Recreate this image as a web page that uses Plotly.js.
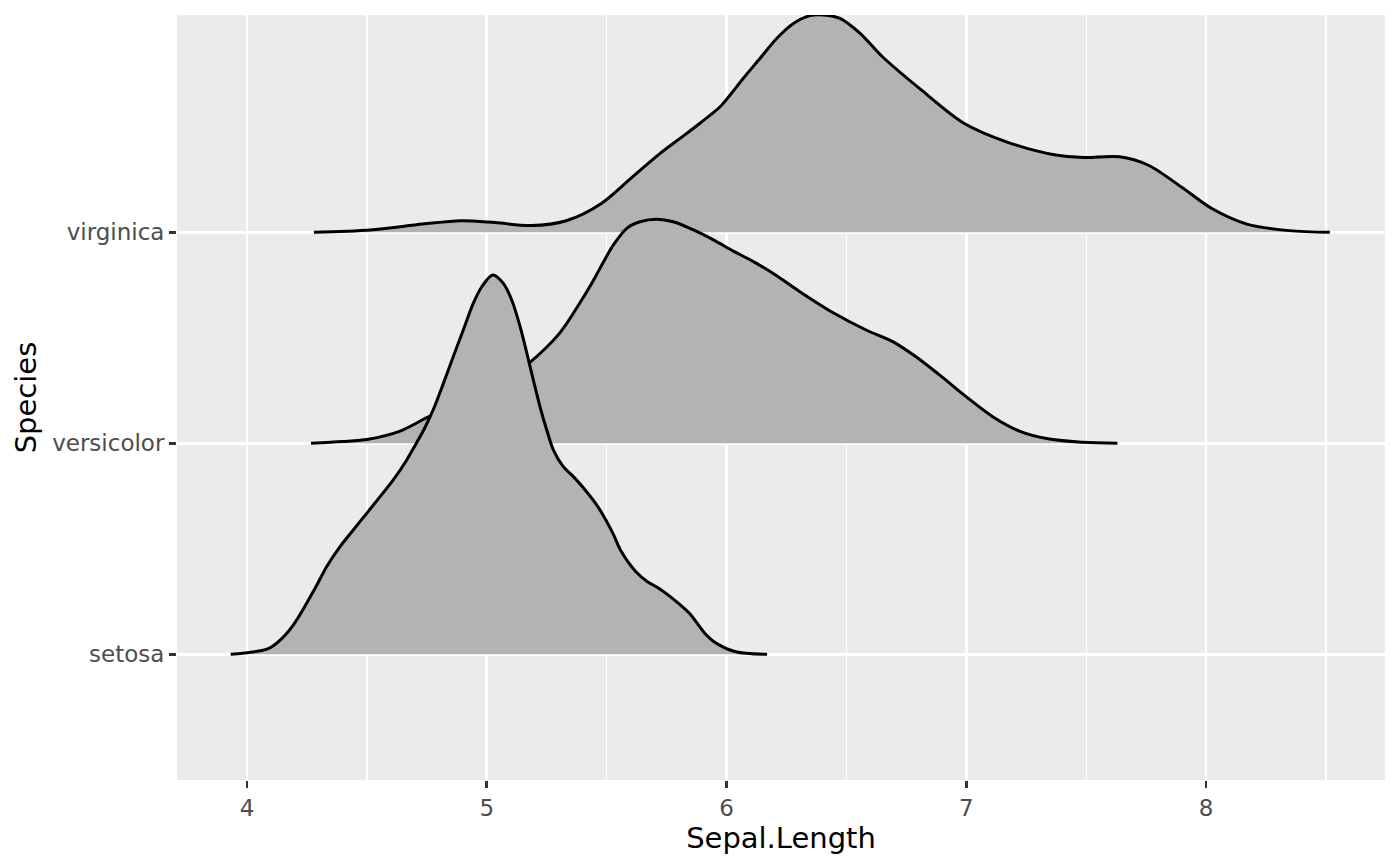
<!DOCTYPE html>
<html>
<head>
<meta charset="utf-8">
<script src="https://cdn.plot.ly/plotly-3.0.1.min.js"></script>
<style>
  html, body { margin: 0; padding: 0; background: #fff; }
  #myDiv { width: 1400px; height: 865px; }
</style>
</head>
<body>
<div id="myDiv"></div>
<script>
// ridge order, bottom to top
var species = ['setosa', 'versicolor', 'virginica'];

// Sepal.Length grid and ridge heights (in units of ridge spacing)
var setosaX = [3.932, 4.091, 4.150, 4.200, 4.284, 4.332, 4.388, 4.443, 4.499, 4.555, 4.610, 4.666, 4.701, 4.740, 4.777, 4.819, 4.860, 4.902, 4.944, 4.979, 5.025, 5.069, 5.104, 5.139, 5.167, 5.194, 5.222, 5.250, 5.278, 5.319, 5.361, 5.399, 5.463, 5.526, 5.558, 5.622, 5.670, 5.717, 5.765, 5.845, 5.909, 5.957, 6.037, 6.169];
var setosaH = [0, 0.028, 0.080, 0.150, 0.313, 0.415, 0.510, 0.589, 0.668, 0.747, 0.826, 0.921, 0.990, 1.070, 1.160, 1.284, 1.410, 1.537, 1.664, 1.742, 1.798, 1.758, 1.679, 1.553, 1.427, 1.300, 1.173, 1.063, 0.968, 0.889, 0.842, 0.794, 0.700, 0.573, 0.493, 0.391, 0.344, 0.313, 0.273, 0.194, 0.100, 0.052, 0.012, 0];

var versicolorX = [4.267, 4.400, 4.506, 4.633, 4.761, 4.850, 4.950, 5.050, 5.175, 5.303, 5.399, 5.431, 5.472, 5.528, 5.584, 5.639, 5.709, 5.778, 5.862, 5.945, 6.028, 6.112, 6.209, 6.304, 6.443, 6.582, 6.693, 6.790, 6.888, 6.999, 7.110, 7.221, 7.346, 7.485, 7.630];
var versicolorH = [0, 0.008, 0.019, 0.055, 0.127, 0.166, 0.218, 0.280, 0.379, 0.521, 0.685, 0.745, 0.829, 0.940, 1.019, 1.050, 1.062, 1.050, 1.011, 0.964, 0.911, 0.861, 0.794, 0.720, 0.620, 0.537, 0.482, 0.410, 0.324, 0.221, 0.126, 0.058, 0.020, 0.005, 0];

var virginicaX = [4.279, 4.513, 4.733, 4.893, 5.035, 5.185, 5.331, 5.478, 5.609, 5.723, 5.806, 5.889, 5.973, 6.015, 6.070, 6.140, 6.209, 6.279, 6.348, 6.404, 6.473, 6.557, 6.650, 6.813, 6.990, 7.167, 7.373, 7.491, 7.639, 7.757, 7.904, 8.022, 8.170, 8.347, 8.516];
var virginicaH = [0, 0.011, 0.039, 0.055, 0.046, 0.032, 0.055, 0.137, 0.264, 0.374, 0.445, 0.517, 0.595, 0.651, 0.730, 0.825, 0.919, 0.990, 1.027, 1.030, 1.014, 0.943, 0.832, 0.674, 0.517, 0.429, 0.366, 0.355, 0.358, 0.319, 0.209, 0.114, 0.039, 0.008, 0];

var xTicks = [4, 5, 6, 7, 8];

var ridges = [
  {x: setosaX, h: setosaH},
  {x: versicolorX, h: versicolorH},
  {x: virginicaX, h: virginicaH}
];

var data = [];
// top ridge first so lower ridges overlap it
for (var i = ridges.length - 1; i >= 0; i--) {
  var base = i + 1;
  var r = ridges[i];
  data.push({
    x: [r.x[0], r.x[r.x.length - 1]],
    y: [base, base],
    mode: 'lines',
    line: {width: 0},
    hoverinfo: 'skip',
    showlegend: false,
    type: 'scatter'
  });
  data.push({
    x: r.x,
    y: r.h.map(function (v) { return base + v; }),
    mode: 'lines',
    fill: 'tonexty',
    fillcolor: '#B3B3B3',
    line: {color: '#000000', width: 3, shape: 'spline', smoothing: 0.9},
    name: species[i],
    showlegend: false,
    type: 'scatter'
  });
}

var layout = {
  width: 1400,
  height: 865,
  margin: {l: 177, r: 15, t: 15, b: 85},
  paper_bgcolor: '#FFFFFF',
  plot_bgcolor: '#EBEBEB',
  font: {family: 'DejaVu Sans', color: '#4D4D4D'},
  xaxis: {
    range: [3.708, 8.746],
    tickvals: xTicks,
    ticktext: xTicks.map(String),
    ticks: 'outside',
    ticklen: 7,
    tickwidth: 2.6,
    tickcolor: '#333333',
    tickfont: {size: 23, color: '#4D4D4D'},
    showgrid: true,
    gridcolor: '#FFFFFF',
    gridwidth: 2.6,
    minor: {dtick: 0.5, tick0: 3.5, showgrid: true, gridcolor: '#FFFFFF', gridwidth: 1.3},
    zeroline: false,
    showline: false,
    title: {text: 'Sepal.Length', font: {size: 29, color: '#000000'}, standoff: 7}
  },
  yaxis: {
    range: [0.404, 4.030],
    tickvals: [1, 2, 3],
    ticktext: species,
    ticks: 'outside',
    ticklen: 7,
    tickwidth: 2.6,
    tickcolor: '#333333',
    tickfont: {size: 23, color: '#4D4D4D'},
    showgrid: true,
    gridcolor: '#FFFFFF',
    gridwidth: 2.6,
    zeroline: false,
    showline: false,
    title: {text: 'Species', font: {size: 29, color: '#000000'}, standoff: 7}
  },
  showlegend: false
};

Plotly.newPlot('myDiv', data, layout, {staticPlot: true});
</script>
</body>
</html>
